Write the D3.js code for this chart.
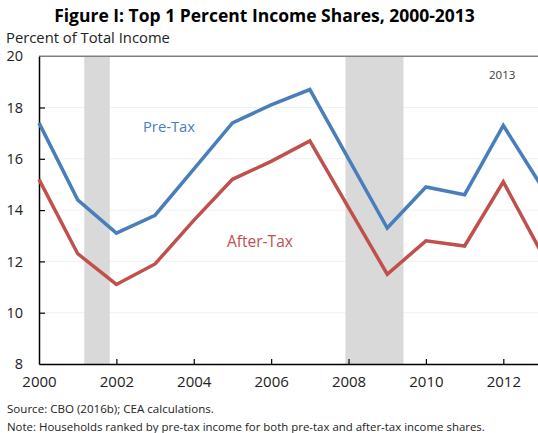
<!DOCTYPE html>
<html>
<head>
<meta charset="utf-8">
<script src="https://cdn.jsdelivr.net/npm/d3@7"></script>
<style>
  html, body { margin: 0; padding: 0; background: #fff; overflow: hidden; }
  svg { display: block; font-family: "Open Sans", sans-serif; }
</style>
</head>
<body>
<svg id="chart"></svg>
<script>
const years = [2000, 2001, 2002, 2003, 2004, 2005, 2006, 2007, 2008, 2009, 2010, 2011, 2012, 2013];
const preTax = [17.4, 14.4, 13.1, 13.8, 15.6, 17.4, 18.1, 18.7, 16.0, 13.3, 14.9, 14.6, 17.3, 14.9];
const afterTax = [15.2, 12.3, 11.1, 11.9, 13.6, 15.2, 15.9, 16.7, 14.1, 11.5, 12.8, 12.6, 15.1, 12.3];
const recessions = [[2001.17, 2001.83], [2007.92, 2009.42]];
const yTicks = [8, 10, 12, 14, 16, 18, 20];
const xTicks = [2000, 2002, 2004, 2006, 2008, 2010, 2012];

const width = 538;
const height = 433;
const plotLeft = 39, plotTop = 56.2, plotBottom = 364, plotRight = 542;

const svg = d3.select("#chart")
    .attr("width", width)
    .attr("height", height);

const x = d3.scaleLinear().domain([2000, 2013]).range([plotLeft, plotRight]);
const y = d3.scaleLinear().domain([8, 20]).range([plotBottom, plotTop]);

// faint gridlines
svg.append("g")
    .selectAll("line")
    .data(yTicks.slice(1, -1))
    .join("line")
    .attr("x1", plotLeft).attr("x2", plotRight)
    .attr("y1", d => y(d)).attr("y2", d => y(d))
    .attr("stroke", "#f0f0f0")
    .attr("stroke-width", 1);

// recession shading
svg.append("g")
    .selectAll("rect")
    .data(recessions)
    .join("rect")
    .attr("x", d => x(d[0]))
    .attr("width", d => x(d[1]) - x(d[0]))
    .attr("y", plotTop)
    .attr("height", plotBottom - plotTop)
    .attr("fill", "#d9d9d9");

// top border
svg.append("line")
    .attr("x1", plotLeft).attr("x2", plotRight)
    .attr("y1", plotTop).attr("y2", plotTop)
    .attr("stroke", "#7f7f7f")
    .attr("stroke-width", 1.5);

// y axis
const yAxis = svg.append("g")
    .attr("transform", `translate(${plotLeft},0)`)
    .call(d3.axisLeft(y).tickValues(yTicks).tickSize(-6).tickSizeOuter(0).tickPadding(16));
yAxis.select(".domain").attr("stroke", "#000").attr("stroke-width", 1.5);
yAxis.selectAll(".tick line").attr("stroke", "#000").attr("stroke-width", 1.2);
yAxis.selectAll(".tick").filter(d => d === 8 || d === 20).select("line").remove();
yAxis.selectAll("text")
    .attr("font-family", "Open Sans, sans-serif")
    .attr("font-size", 14.5)
    .attr("fill", "#222");

// x axis
const xAxis = svg.append("g")
    .attr("transform", `translate(0,${plotBottom})`)
    .call(d3.axisBottom(x).tickValues(xTicks).tickSize(-5).tickSizeOuter(0).tickFormat(d3.format("d")));
xAxis.select(".domain").attr("stroke", "#000").attr("stroke-width", 1.5);
xAxis.selectAll(".tick line").attr("stroke", "#000").attr("stroke-width", 1.2);
xAxis.selectAll(".tick").filter(d => d === 2000).select("line").remove();
xAxis.selectAll("text")
    .attr("dy", null)
    .attr("y", 22.5)
    .attr("font-family", "Open Sans, sans-serif")
    .attr("font-size", 15)
    .attr("fill", "#222");

// lines
const line = d3.line()
    .x((d, i) => x(years[i]))
    .y(d => y(d));

svg.append("path")
    .datum(afterTax)
    .attr("d", line)
    .attr("fill", "none")
    .attr("stroke", "#c0504d")
    .attr("stroke-width", 3.5)
    .attr("stroke-linejoin", "miter");

svg.append("path")
    .datum(preTax)
    .attr("d", line)
    .attr("fill", "none")
    .attr("stroke", "#4a7ebb")
    .attr("stroke-width", 3.5)
    .attr("stroke-linejoin", "miter");

// fit text to a width
function fit(sel, w) {
    const len = sel.node().getComputedTextLength();
    const fs = parseFloat(sel.attr("font-size"));
    sel.attr("font-size", fs * w / len);
    return sel;
}

fit(svg.append("text")
    .attr("x", 264.5).attr("y", 22)
    .attr("text-anchor", "middle")
    .attr("font-weight", "bold")
    .attr("font-size", 17)
    .attr("fill", "#000")
    .text("Figure I: Top 1 Percent Income Shares, 2000-2013"), 421);

fit(svg.append("text")
    .attr("x", 6).attr("y", 42.5)
    .attr("font-size", 15)
    .attr("fill", "#222")
    .text("Percent of Total Income"), 164);

fit(svg.append("text")
    .attr("x", 143).attr("y", 132)
    .attr("font-size", 15)
    .attr("fill", "#4a7ebb")
    .text("Pre-Tax"), 52);

fit(svg.append("text")
    .attr("x", 227).attr("y", 246.5)
    .attr("font-size", 15)
    .attr("fill", "#c0504d")
    .text("After-Tax"), 66);

fit(svg.append("text")
    .attr("x", 489).attr("y", 79)
    .attr("font-size", 11)
    .attr("fill", "#404040")
    .text("2013"), 26.5);

fit(svg.append("text")
    .attr("x", 7).attr("y", 413)
    .attr("font-size", 11)
    .attr("fill", "#222")
    .text("Source: CBO (2016b); CEA calculations."), 207);

fit(svg.append("text")
    .attr("x", 7).attr("y", 431)
    .attr("font-size", 11)
    .attr("fill", "#222")
    .text("Note: Households ranked by pre-tax income for both pre-tax and after-tax income shares."), 478);
</script>
</body>
</html>
